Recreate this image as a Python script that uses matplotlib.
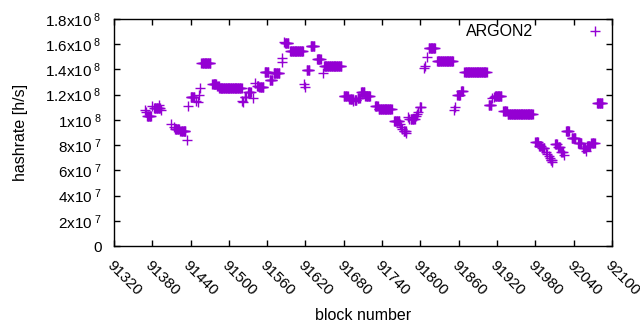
import numpy as np
import matplotlib
matplotlib.use('Agg')
import matplotlib.pyplot as plt
from matplotlib.ticker import FuncFormatter, MultipleLocator

plt.rcParams['font.family'] = ['Liberation Sans', 'DejaVu Sans']
plt.rcParams['mathtext.fontset'] = 'custom'
plt.rcParams['mathtext.rm'] = 'Liberation Sans'
plt.rcParams['mathtext.it'] = 'Liberation Sans'

# hashrate runs: consecutive blocks sharing the same value (start, end, value)
run_start = [91368, 91370, 91372, 91380, 91383, 91390, 91393, 91401, 91410, 91414,
             91416, 91424, 91434, 91436, 91440, 91449, 91451, 91453, 91455, 91457,
             91474, 91482, 91485, 91521, 91522, 91525, 91530, 91538, 91541, 91544,
             91548, 91556, 91564, 91570, 91583, 91584, 91586, 91588, 91596, 91618,
             91619, 91622, 91628, 91638, 91647, 91649, 91680, 91689, 91695, 91697,
             91702, 91707, 91714, 91729, 91735, 91759, 91768, 91770, 91772, 91774,
             91778, 91781, 91783, 91785, 91793, 91795, 91797, 91799, 91806, 91808,
             91810, 91813, 91826, 91853, 91855, 91858, 91864, 91869, 91907, 91913,
             91915, 91917, 91930, 91937, 91980, 91986, 91991, 91997, 91999, 92001,
             92003, 92004, 92007, 92011, 92016, 92021, 92025, 92028, 92037, 92047,
             92055, 92059, 92061, 92068, 92077]
run_end = [91368, 91370, 91378, 91380, 91392, 91390, 91393, 91400, 91410, 91414,
           91422, 91432, 91434, 91436, 91446, 91449, 91451, 91453, 91455, 91471,
           91480, 91484, 91520, 91521, 91522, 91527, 91534, 91538, 91541, 91546,
           91554, 91562, 91568, 91579, 91583, 91584, 91586, 91593, 91616, 91618,
           91619, 91626, 91634, 91644, 91647, 91676, 91686, 91694, 91695, 91700,
           91705, 91712, 91721, 91733, 91755, 91767, 91768, 91770, 91772, 91777,
           91778, 91781, 91783, 91791, 91793, 91795, 91797, 91801, 91806, 91808,
           91810, 91823, 91851, 91853, 91855, 91862, 91867, 91904, 91911, 91913,
           91915, 91927, 91935, 91976, 91984, 91989, 91994, 91997, 91999, 92001,
           92003, 92006, 92007, 92014, 92019, 92023, 92025, 92033, 92043, 92052,
           92058, 92059, 92066, 92073, 92085]
run_value = [1.078, 1.060, 1.031, 1.110, 1.092, 1.118, 1.078, 1.092, 0.965, 0.940,
             0.928, 0.912, 0.840, 1.112, 1.179, 1.152, 1.144, 1.200, 1.250, 1.449,
             1.285, 1.270, 1.250, 1.150, 1.144, 1.184, 1.223, 1.170, 1.290, 1.270,
             1.258, 1.377, 1.316, 1.369, 1.461, 1.488, 1.620, 1.607, 1.544, 1.283,
             1.258, 1.396, 1.584, 1.481, 1.369, 1.425, 1.187, 1.166, 1.152, 1.160,
             1.176, 1.223, 1.190, 1.110, 1.084, 0.991, 0.970, 0.946, 0.930, 0.912,
             0.895, 1.025, 1.010, 1.005, 1.030, 1.050, 1.065, 1.105, 1.414, 1.430,
             1.501, 1.568, 1.465, 1.078, 1.100, 1.197, 1.229, 1.377, 1.116, 1.170,
             1.180, 1.190, 1.070, 1.044, 0.822, 0.795, 0.779, 0.743, 0.730, 0.714,
             0.700, 0.682, 0.664, 0.806, 0.783, 0.748, 0.720, 0.912, 0.854, 0.814,
             0.775, 0.750, 0.793, 0.814, 1.131]

x_ticks = list(range(91320, 92101, 60))


def fmtY(v, pos):
    if v <= 0:
        return '0'
    exp = int(np.floor(np.log10(v) + 1e-9))
    mant = v / 10 ** exp
    mant = ('%.1f' % mant).rstrip('0').rstrip('.')
    return mant + 'x10$^{\\ %d}$' % exp


blocks = []
vals = []
for s, e, v in zip(run_start, run_end, run_value):
    for b in range(s, e + 1):
        blocks.append(b)
        vals.append(v * 1e8)

fig = plt.figure(figsize=(6.4, 3.3), dpi=100)
ax = fig.add_axes([0.178, 0.2545, 0.778, 0.688])
ax.plot(blocks, vals, linestyle='none', marker='+', markersize=6.5,
        markeredgewidth=1.0, color='#9400d3', label='ARGON2')

ax.set_xlim(91320, 92100)
ax.set_ylim(0, 1.8e8)
ax.set_xticks(x_ticks)
ax.yaxis.set_major_locator(MultipleLocator(2e7))
ax.yaxis.set_major_formatter(FuncFormatter(fmtY))
ax.tick_params(direction='in', length=4, width=1, top=True, right=True,
               labelsize=11, colors='black')
ax.tick_params(axis='y', pad=9)
ax.tick_params(axis='x', pad=9)
for lab in ax.get_xticklabels():
    lab.set_rotation(-45)
    lab.set_ha('left')
    lab.set_va('top')
    lab.set_rotation_mode('anchor')
for sp in ax.spines.values():
    sp.set_linewidth(1)

ax.set_xlabel('block number', fontsize=11.5, labelpad=7)
ax.set_ylabel('hashrate [h/s]', fontsize=11.5, labelpad=12)

ax.legend(loc='center right', bbox_to_anchor=(0.982, 0.943), frameon=False,
          markerfirst=False, fontsize=11.5, handlelength=1.0,
          handletextpad=3.4, borderpad=0, borderaxespad=0)

fig.savefig('out.png', dpi=100)
plt.close(fig)
